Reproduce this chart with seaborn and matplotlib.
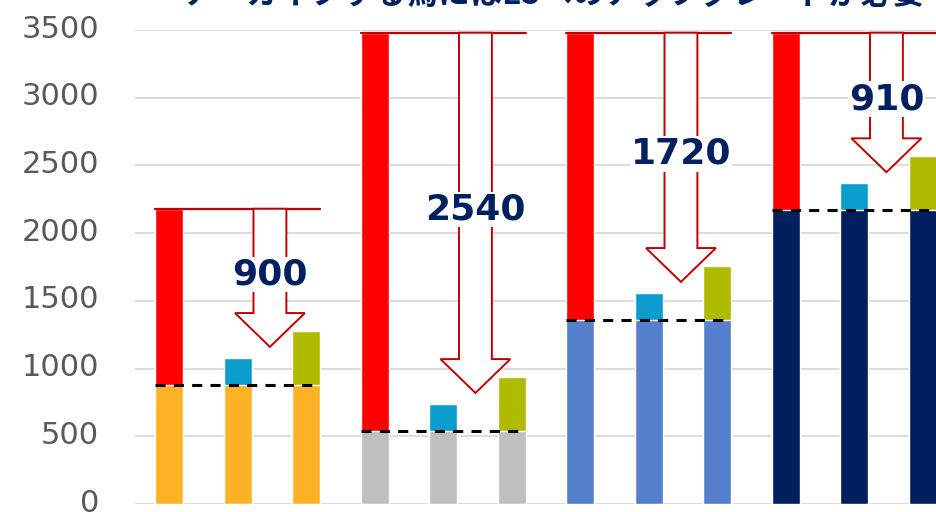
import matplotlib
matplotlib.use("Agg")
import matplotlib.pyplot as plt
import matplotlib.transforms as mtransforms
import numpy as np
import pandas as pd
import seaborn as sns
from matplotlib.patches import Polygon

TITLE = "アーカイブする為にはE5へのアップグレードが必要"
GROUPS = ["G1", "G2", "G3", "G4"]
BASE = [880, 540, 1360, 2170]          # valore attuale (dashed line)
TARGET = [2180, 3480, 3480, 3480]      # top of the red bar
ADD_BLUE = [200, 200, 200, 200]
ADD_GREEN = [400, 400, 400, 400]
Y_TICKS = [0, 500, 1000, 1500, 2000, 2500, 3000, 3500]

BASE_COLORS = ["#FDB227", "#BFBFBF", "#5580CB", "#001F5F"]
TOP_COLORS = ["#FF0000", "#0A9DCE", "#AFBB00"]
DARK_RED = "#C00000"
NAVY = "#002060"

BAR_W = 0.41
ARROW_OFF = 1.47     # arrow centre, relative to the first bar of a group
SHAFT_W = 0.48
HEAD_W = 1.02
HEAD_H = 250
TIP_GAP = 120

sns.set_style("white")
plt.rcParams["font.family"] = ["DejaVu Sans", "Noto Sans CJK JP"]

# build the bar table
rows = []
for g, name in enumerate(GROUPS):
    tops = [TARGET[g], BASE[g] + ADD_BLUE[g], BASE[g] + ADD_GREEN[g]]
    for j in range(3):
        rows.append({"pos": f"{name}-{j}", "group": g, "top": tops[j], "base": BASE[g],
                     "c_top": TOP_COLORS[j], "c_base": BASE_COLORS[g]})
df = pd.DataFrame(rows)
order = list(df["pos"])

fig = plt.figure(figsize=(9.37, 5.12), dpi=100)
ax = fig.add_axes([135 / 937, 8 / 512, 822 / 937, 474 / 512])

sns.barplot(data=df, x="pos", y="top", hue="pos", order=order, hue_order=order,
            palette=dict(zip(df["pos"], df["c_top"])), width=BAR_W, dodge=False,
            saturation=1, legend=False, ax=ax, zorder=2)
sns.barplot(data=df, x="pos", y="base", hue="pos", order=order, hue_order=order,
            palette=dict(zip(df["pos"], df["c_base"])), width=BAR_W, dodge=False,
            saturation=1, legend=False, ax=ax, zorder=2)

for g in range(len(GROUPS)):
    x0 = 3 * g
    left, right = x0 - BAR_W / 2, x0 + 2 + BAR_W / 2
    green_top = BASE[g] + ADD_GREEN[g]
    gap = TARGET[g] - green_top

    # dashed line at current level
    ax.plot([left, right - 0.05], [BASE[g], BASE[g]], color="black", lw=2.2,
            dashes=(3.3, 2.7), zorder=6)
    # red bracket line
    ax.plot([left, right], [TARGET[g], TARGET[g]], color=DARK_RED, lw=1.6, zorder=4)

    # hollow block arrow
    cx = x0 + ARROW_OFF
    tip = green_top - TIP_GAP
    head_top = tip + HEAD_H
    pts = [(cx - SHAFT_W / 2, TARGET[g]), (cx - SHAFT_W / 2, head_top),
           (cx - HEAD_W / 2, head_top), (cx, tip), (cx + HEAD_W / 2, head_top),
           (cx + SHAFT_W / 2, head_top), (cx + SHAFT_W / 2, TARGET[g])]
    ax.add_patch(Polygon(pts, closed=True, fc="white", ec=DARK_RED, lw=1.4, zorder=4))

    ax.text(cx, (TARGET[g] + head_top) / 2 - 100, f"{gap}", ha="center", va="center",
            fontsize=26, fontweight="bold", color=NAVY, zorder=5,
            bbox=dict(fc="white", ec="none", pad=0.5))

ax.set_ylim(0, 3500)
ax.set_xlim(-0.5, len(order) - 0.5)
ax.set_yticks(Y_TICKS)
ax.set_xticks([])
ax.set_xlabel("")
ax.set_ylabel("")
ax.yaxis.grid(True, color="#D9D9D9", lw=1.3)
ax.set_axisbelow(True)
ax.tick_params(axis="y", length=0, pad=26, labelsize=22, labelcolor="#595959")
sns.despine(ax=ax, left=True, bottom=True)

# tick labels sit a little above their gridline, like in the original
shift = mtransforms.ScaledTranslation(0, 4 / 100, fig.dpi_scale_trans)
for lab in ax.get_yticklabels():
    lab.set_transform(lab.get_transform() + shift)

fig.text(554 / 937, 507 / 512, TITLE, ha="center", va="baseline", fontsize=23,
         fontweight="bold", color=NAVY, family=["Noto Sans CJK JP", "DejaVu Sans"])

fig.savefig("out.png", dpi=100)
plt.close(fig)
